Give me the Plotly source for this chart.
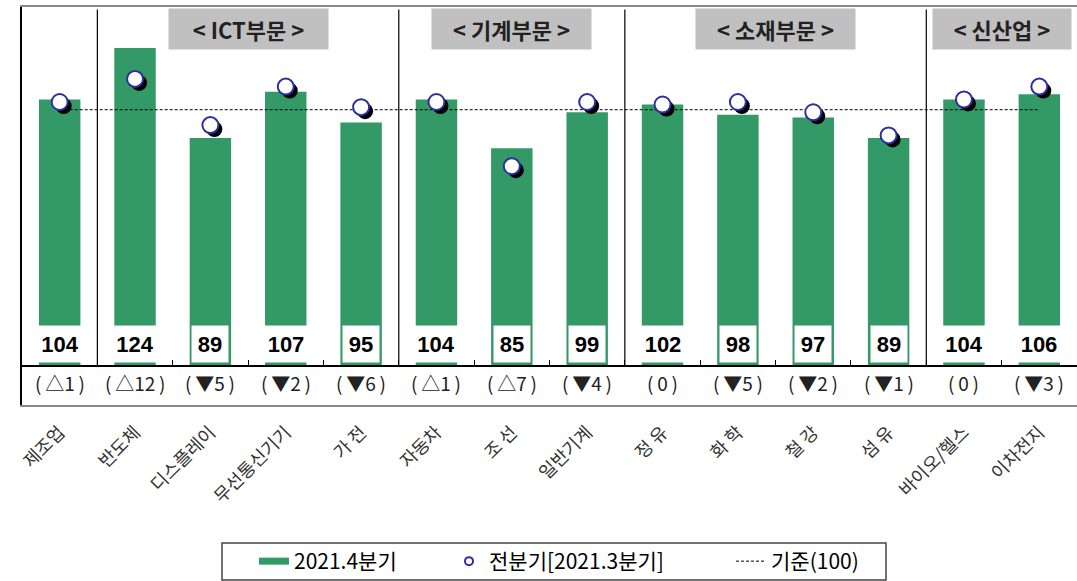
import plotly.graph_objects as go

categories = ["제조업", "반도체", "디스플레이", "무선통신기기", "가 전", "자동차", "조 선",
              "일반기계", "정 유", "화 학", "철 강", "섬 유", "바이오/헬스", "이차전지"]
current = [104, 124, 89, 107, 95, 104, 85, 99, 102, 98, 97, 89, 104, 106]
previous = [103, 112, 94, 109, 101, 103, 78, 103, 102, 103, 99, 90, 104, 109]
changes = ["△1", "△12", "▼5", "▼2", "▼6", "△1", "△7", "▼4", "0", "▼5", "▼2", "▼1", "0", "▼3"]
baseline = 100
sections = [("< ICT부문 >", 1, 4), ("< 기계부문 >", 5, 7), ("< 소재부문 >", 8, 11), ("< 신산업 >", 12, 13)]
legend_names = ["2021.4분기", "전분기[2021.3분기]", "기준(100)"]

GREEN = "#339966"
NAVY = "#2e2e9e"
FONT = "Noto Sans CJK KR"
NUMFONT = "Liberation Sans, Noto Sans CJK KR"

W, H = 1077, 581
ML, MR, MT, MB = 22, 0, 7, 176
PW = W - ML - MR
PH = H - MT - MB
n = len(categories)
idx = list(range(n))
XR = [-0.5, n - 0.5]
YR = [-15, 140]
px_x = PW / (XR[1] - XR[0])
px_y = PH / (YR[1] - YR[0])
sh = 4.0  # shadow offset px
dx = sh / px_x
dy = sh / px_y


def paper_x(px):
    return (px - ML) / PW


def paper_y(py):
    return (MT + PH - py) / PH


fig = go.Figure()

fig.add_trace(go.Bar(x=idx, y=current, marker=dict(color=GREEN, line=dict(width=0)),
                     width=0.55, showlegend=False, hoverinfo="skip"))
fig.add_trace(go.Scatter(x=idx, y=[baseline] * n, mode="lines", name=legend_names[2],
                         line=dict(color="black", width=1, dash="3px,2px"), legend="legend3"))
# shadow of previous-quarter markers
fig.add_trace(go.Scatter(x=idx, y=previous, mode="markers", xaxis="x2", yaxis="y2",
                         marker=dict(size=16, color="black", line=dict(width=0)),
                         showlegend=False, hoverinfo="skip"))
fig.add_trace(go.Scatter(x=idx, y=previous, mode="markers", xaxis="x3", yaxis="y3",
                         marker=dict(size=16, color="white", line=dict(color=NAVY, width=2)),
                         showlegend=False))
# legend entries
fig.add_trace(go.Scatter(x=[None], y=[None], mode="lines", name=legend_names[0],
                         line=dict(color=GREEN, width=7), legend="legend"))
fig.add_trace(go.Scatter(x=[None], y=[None], mode="markers", name=legend_names[1],
                         marker=dict(size=8, color="white", line=dict(color=NAVY, width=2)),
                         legend="legend2"))

annotations = []
for i, v in enumerate(current):
    annotations.append(dict(x=i, y=8.6, xref="x", yref="y", text=f"<b>{v}</b>", showarrow=False,
                            bgcolor="white", borderpad=3, height=30,
                            width=44 if v >= 100 else 30,
                            xanchor="center", yanchor="middle",
                            font=dict(family=NUMFONT, size=22, color="black")))
for i, c in enumerate(changes):
    annotations.append(dict(x=i, y=-6.2, xref="x", yref="y", text=f"(\u2009{c}\u2009)",
                            showarrow=False, xanchor="center", yanchor="middle",
                            font=dict(family=FONT, size=19, color="#222")))
shapes = []
for k, (title, s, e) in enumerate(sections):
    w = 132 if k == len(sections) - 1 else 153
    annotations.append(dict(x=(s + e) / 2, y=paper_y(29), xref="x", yref="paper",
                            text=f"<b>{title}</b>", showarrow=False, bgcolor="#c0c0c0",
                            width=w, height=34, borderpad=3,
                            xanchor="center", yanchor="middle",
                            font=dict(family=FONT, size=22, color="#222")))
    shapes.append(dict(type="line", xref="x", yref="y", x0=s - 0.5, x1=s - 0.5, y0=0, y1=139,
                       line=dict(color="black", width=1.2)))

# legend frame
shapes.append(dict(type="rect", xref="paper", yref="paper",
                   x0=paper_x(222), x1=paper_x(886), y0=paper_y(580), y1=paper_y(543),
                   line=dict(color="#444", width=1.5), fillcolor="rgba(0,0,0,0)"))

zero_pos = (0 - YR[0]) / (YR[1] - YR[0])

leg_common = dict(orientation="h", xanchor="left", yanchor="middle", y=paper_y(561.5),
                  bgcolor="rgba(0,0,0,0)", borderwidth=0,
                  font=dict(family=FONT, size=21, color="black"))

fig.update_layout(
    width=W, height=H,
    margin=dict(l=ML, r=MR, t=MT, b=MB, autoexpand=False),
    paper_bgcolor="white", plot_bgcolor="white",
    font=dict(family=FONT, size=17, color="black"),
    xaxis=dict(range=XR, tickvals=idx, ticktext=categories, tickangle=-45,
               tickfont=dict(family=FONT, size=18, color="#333"), ticks="",
               ticklabelstandoff=8, automargin=False,
               showgrid=False, zeroline=False, showline=True, mirror=True,
               linecolor="#888", linewidth=1.5),
    yaxis=dict(range=YR, showticklabels=False, ticks="", showgrid=False, zeroline=False,
               showline=True, linecolor="black", linewidth=1.5, automargin=False),
    xaxis2=dict(range=[XR[0] - dx, XR[1] - dx], overlaying="x", visible=False),
    yaxis2=dict(range=[YR[0] + dy, YR[1] + dy], overlaying="y", visible=False),
    xaxis3=dict(range=XR, overlaying="x", anchor="free", position=zero_pos,
                showline=True, linecolor="black", linewidth=2,
                tickvals=[i + 0.5 for i in idx[:-1]], ticks="inside", ticklen=5,
                tickcolor="black", tickwidth=1, showticklabels=False,
                showgrid=False, zeroline=False, automargin=False),
    yaxis3=dict(range=YR, overlaying="y", visible=False),
    legend=dict(x=paper_x(254), **leg_common),
    legend2=dict(x=paper_x(449), **leg_common),
    legend3=dict(x=paper_x(731), **leg_common),
    annotations=annotations,
    shapes=shapes,
)

fig.write_html("out.html", config={"displayModeBar": False},
               post_script="document.body.style.margin='0';")
